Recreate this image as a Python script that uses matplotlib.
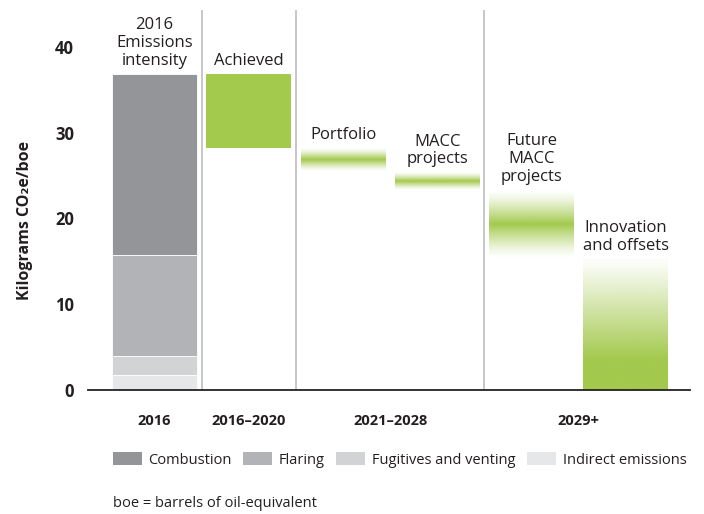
import numpy as np
import matplotlib.pyplot as plt
from matplotlib.patches import Patch
from matplotlib.colors import to_rgb

# stacked 2016 baseline (kg CO2e/boe)
components = ["Combustion", "Flaring", "Fugitives and venting", "Indirect emissions"]
comp_values = [21.05, 11.8, 2.2, 1.75]
comp_colors = ["#939598", "#b1b3b6", "#d1d3d4", "#e6e7e8"]

# reduction steps: label, low, high
steps = ["Achieved", "Portfolio", "MACC\nprojects", "Future\nMACC\nprojects", "Innovation\nand offsets"]
step_low = [28.25, 25.5, 23.3, 15.4, 0.0]
step_high = [36.8, 28.1, 25.3, 23.3, 15.2]
step_style = ["solid", "band", "band", "band", "fade"]

periods = ["2016", "2016\u20132020", "2021\u20132028", "2029+"]
period_pos = [0, 1, 2.5, 4.5]
dividers = [0.5, 1.5, 3.5]

green = "#a3c94d"
txt = "#231f20"
width = 0.9
font = ["Open Sans", "DejaVu Sans"]
plt.rcParams["font.family"] = font

fig = plt.figure(figsize=(7.04, 5.14), dpi=100)
ax = fig.add_axes([0.125, 0.2412, 0.855, 0.7393])

# baseline stack
bottom = 0
for name, val, col in zip(components[::-1], comp_values[::-1], comp_colors[::-1]):
    ax.bar(0, val, width, bottom=bottom, color=col, edgecolor="white", linewidth=0.6, zorder=2)
    bottom += val
total = sum(comp_values)
ax.annotate("2016\nEmissions\nintensity", (0, total), xytext=(0, 4), textcoords="offset points",
            ha="center", va="bottom", fontsize=12, color=txt, linespacing=1.15)

rgb = to_rgb(green)
n = 200
for i, (lab, lo, hi, st) in enumerate(zip(steps, step_low, step_high, step_style)):
    x = i + 1
    if st == "solid":
        ax.bar(x, hi - lo, width, bottom=lo, color=green, zorder=2)
    else:
        t = np.linspace(0, 1, n)
        if st == "band":
            a = (1 - np.abs(2 * t - 1)) ** 1.3
        else:
            a = np.clip((1 - t) * 1.3, 0.04, 1)
        img = np.zeros((n, 1, 4))
        img[:, 0, :3] = rgb
        img[:, 0, 3] = a
        ax.imshow(img, extent=(x - width / 2, x + width / 2, lo, hi), origin="lower",
                  aspect="auto", interpolation="bilinear", zorder=2)
    ax.annotate(lab, (x, hi), xytext=(0, 4), textcoords="offset points",
                ha="center", va="bottom", fontsize=12, color=txt, linespacing=1.15)

for d in dividers:
    ax.axvline(d, color="#bcbec0", lw=1.2, zorder=1)

ax.set_xlim(-0.705, 5.68)
ax.set_ylim(0, 44.3)
ax.set_yticks([0, 10, 20, 30, 40])
ax.tick_params(axis="y", length=0, pad=10, labelsize=12, labelcolor=txt)
for lbl in ax.get_yticklabels():
    lbl.set_fontweight("bold")
ax.set_xticks(period_pos)
ax.set_xticklabels(periods, fontsize=10.5, fontweight="bold", color=txt)
ax.tick_params(axis="x", length=0, pad=17)
for s in ["top", "right", "left"]:
    ax.spines[s].set_visible(False)
ax.spines["bottom"].set_linewidth(1.3)
ax.spines["bottom"].set_color("#222222")

ax.set_ylabel("Kilograms CO\u2082e/boe", fontsize=11.5, fontweight="bold", color=txt)
ax.yaxis.set_label_coords(-0.092, 0.447)

handles = [Patch(facecolor=c, label=l) for c, l in zip(comp_colors, components)]
fig.legend(handles=handles, loc="center left", bbox_to_anchor=(0.16, 0.105), ncol=4,
           frameon=False, fontsize=10.5, handlelength=2.0, handleheight=1.0,
           handletextpad=0.45, columnspacing=0.78, borderpad=0, borderaxespad=0,
           labelcolor=txt)

fig.text(0.16, 0.021, "boe = barrels of oil-equivalent", fontsize=10.5, color=txt,
         ha="left", va="center")

fig.savefig("out.png", dpi=100)
